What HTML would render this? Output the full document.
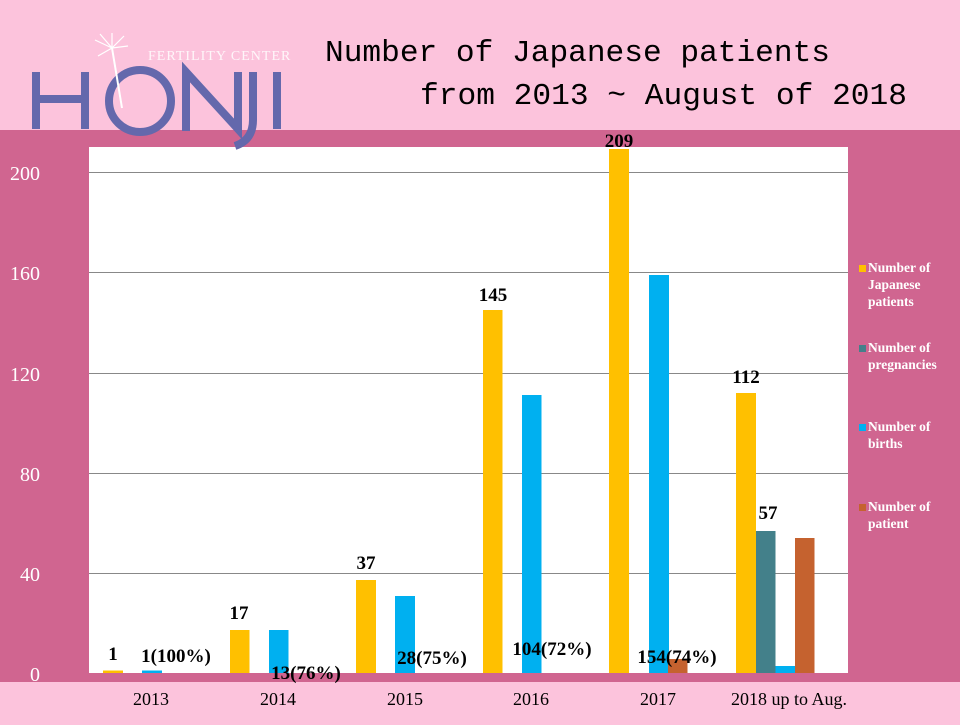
<!DOCTYPE html>
<html><head><meta charset="utf-8"><style>
body{margin:0;width:960px;height:720px;overflow:hidden;background:#fcc3dc;font-family:"Liberation Serif",serif}
</style></head><body>
<svg width="960" height="720" xmlns="http://www.w3.org/2000/svg">
<rect x="0" y="0" width="960" height="720" fill="#fcc3dc"/>
<rect x="0" y="130" width="960" height="552" fill="#d06590"/>
<rect x="89" y="147" width="759" height="526" fill="#fff"/>
<g stroke="#888" stroke-width="1">
<line x1="89" y1="172.5" x2="848" y2="172.5"/><line x1="89" y1="272.5" x2="848" y2="272.5"/>
<line x1="89" y1="373.5" x2="848" y2="373.5"/><line x1="89" y1="473.5" x2="848" y2="473.5"/>
<line x1="89" y1="573.5" x2="848" y2="573.5"/>
</g>
<g fill="#ffc000">
<rect x="103" y="670.5" width="20" height="2.5"/><rect x="230" y="630" width="19.5" height="43"/>
<rect x="356" y="580" width="20" height="93"/><rect x="483" y="310" width="19.5" height="363"/>
<rect x="609" y="149" width="20" height="524"/><rect x="736" y="393" width="20" height="280"/>
</g>
<g fill="#00b0f0">
<rect x="142" y="670.5" width="20" height="2.5"/><rect x="269" y="630" width="19.5" height="43"/>
<rect x="395" y="596" width="20" height="77"/><rect x="522" y="395" width="19.5" height="278"/>
<rect x="649" y="275" width="20" height="398"/><rect x="775" y="666" width="20" height="7"/>
</g>
<rect x="756" y="531" width="19.5" height="142" fill="#43808a"/>
<g fill="#c5622f"><rect x="668" y="659" width="19.5" height="14"/><rect x="795" y="538" width="19.5" height="135"/></g>
<rect x="0" y="673" width="960" height="9" fill="#d06590"/>
<g font-size="20" fill="#fff" text-anchor="end">
<text x="40" y="180">200</text><text x="40" y="280">160</text><text x="40" y="381">120</text>
<text x="40" y="481">80</text><text x="40" y="581">40</text><text x="40" y="681">0</text>
</g>
<g font-size="19" font-weight="bold" fill="#000" text-anchor="middle">
<text x="113" y="660">1</text><text x="176" y="662">1(100%)</text>
<text x="239" y="619">17</text><text x="306" y="679">13(76%)</text>
<text x="366" y="569">37</text><text x="432" y="664">28(75%)</text>
<text x="493" y="301">145</text><text x="552" y="655">104(72%)</text>
<text x="619" y="147">209</text><text x="677" y="663">154(74%)</text>
<text x="746" y="383">112</text><text x="768" y="519">57</text>
</g>
<g font-size="18" fill="#000" text-anchor="middle">
<text x="151" y="705">2013</text><text x="278" y="705">2014</text><text x="405" y="705">2015</text>
<text x="531" y="705">2016</text><text x="658" y="705">2017</text><text x="789" y="705">2018 up to Aug.</text>
</g>
<g font-size="13.5" font-weight="bold" fill="#fff">
<rect x="859" y="265" width="7" height="7" fill="#ffc000"/>
<text x="868" y="272">Number of</text><text x="868" y="289">Japanese</text><text x="868" y="306">patients</text>
<rect x="859" y="345" width="7" height="7" fill="#43808a"/>
<text x="868" y="352">Number of</text><text x="868" y="369">pregnancies</text>
<rect x="859" y="424" width="7" height="7" fill="#00b0f0"/>
<text x="868" y="431">Number of</text><text x="868" y="448">births</text>
<rect x="859" y="504" width="7" height="7" fill="#c5622f"/>
<text x="868" y="511">Number of</text><text x="868" y="528">patient</text>
</g>
<text x="148" y="60" font-size="14" fill="#fff" opacity="0.85" letter-spacing="1">FERTILITY CENTER</text>
<g stroke="#6468ac" stroke-width="8" fill="none">
<line x1="36" y1="72" x2="36" y2="129"/><line x1="85" y1="72" x2="85" y2="129"/><line x1="36" y1="99" x2="85" y2="99"/>
<circle cx="140" cy="101" r="31"/>
<polyline points="186,131 186,72 238,129 238,72"/>
<path d="M253,72 V120 Q253,140 235,146"/>
<line x1="277" y1="72" x2="277" y2="129"/>
</g>
<line x1="112" y1="48" x2="122" y2="108" stroke="#fff" stroke-width="2"/>
<g stroke="#fff" stroke-width="1.2"><line x1="112" y1="48" x2="95" y2="40"/><line x1="112" y1="48" x2="100" y2="34"/><line x1="112" y1="48" x2="112" y2="33"/><line x1="112" y1="48" x2="124" y2="36"/><line x1="112" y1="48" x2="128" y2="46"/><line x1="112" y1="48" x2="98" y2="56"/></g>
<g font-family="Liberation Mono, monospace" font-size="31" fill="#000">
<text x="325" y="61" textLength="505" lengthAdjust="spacingAndGlyphs">Number of Japanese patients</text>
<text x="420" y="104" textLength="487" lengthAdjust="spacingAndGlyphs">from 2013 ~ August of 2018</text>
</g>
</svg>
</body></html>
